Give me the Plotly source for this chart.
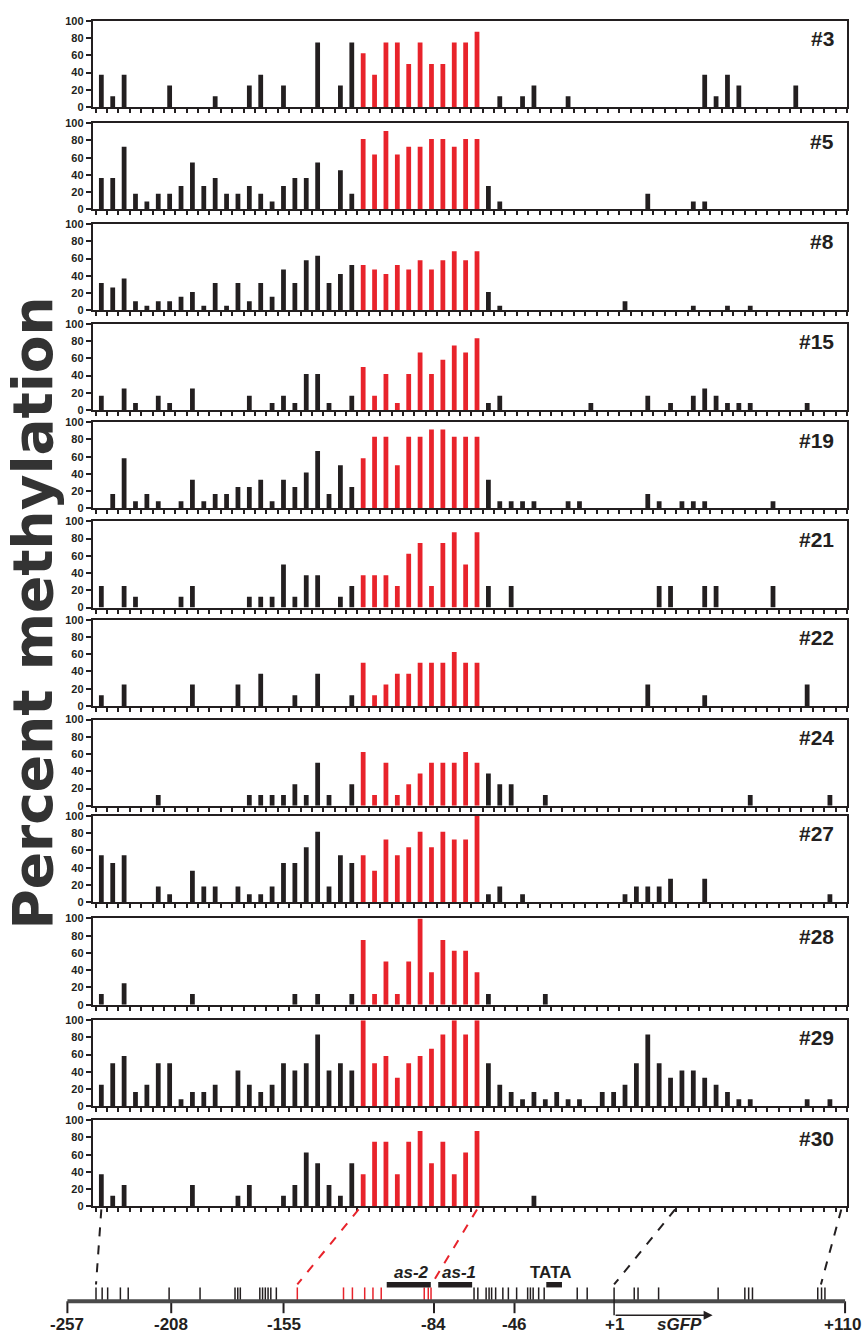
import plotly.graph_objects as go

# ---------------- data ----------------
panel_names = ["#3", "#5", "#8", "#15", "#19", "#21", "#22", "#24", "#27", "#28", "#29", "#30"]
n_sites = 66
red_first, red_last = 23, 33   # red (as-1/as-2 region) cytosine indices

m3 = [37.5,12.5,37.5,0,0,0,25,0,0,0, 12.5,0,0,25,37.5,0,25,0,0,75, 0,25,75,62.5,37.5,75,75,50,75,50,
      50,75,75,87.5,0,12.5,0,12.5,25,0, 0,12.5,0,0,0,0,0,0,0,0, 0,0,0,37.5,12.5,37.5,25,0,0,0, 0,25,0,0,0,0]
m5 = [36.4,36.4,72.7,18.2,9.1,18.2,18.2,27.3,54.5,27.3, 36.4,18.2,18.2,27.3,18.2,9.1,27.3,36.4,36.4,54.5,
      0,45.5,18.2,81.8,63.6,90.9,63.6,72.7,72.7,81.8, 81.8,72.7,81.8,81.8,27.3,9.1,0,0,0,0,
      0,0,0,0,0,0,0,0,18.2,0, 0,0,9.1,9.1,0,0,0,0,0,0, 0,0,0,0,0,0]
m8 = [31.6,26.3,36.8,10.5,5.3,10.5,10.5,15.8,21.1,5.3, 31.6,5.3,31.6,10.5,31.6,15.8,47.4,31.6,57.9,63.2,
      31.6,42.1,52.6,52.6,47.4,42.1,52.6,47.4,57.9,47.4, 57.9,68.4,57.9,68.4,21.1,5.3,0,0,0,0,
      0,0,0,0,0,0,10.5,0,0,0, 0,0,5.3,0,0,5.3,0,5.3,0,0, 0,0,0,0,0,0]
m15 = [16.7,0,25,8.3,0,16.7,8.3,0,25,0, 0,0,0,16.7,0,8.3,16.7,8.3,41.7,41.7,
       8.3,0,16.7,50,16.7,41.7,8.3,41.7,66.7,41.7, 58.3,75,66.7,83.3,8.3,16.7,0,0,0,0,
       0,0,0,8.3,0,0,0,0,16.7,0, 8.3,0,16.7,25,16.7,8.3,8.3,8.3,0,0, 0,0,8.3,0,0,0]
m19 = [0,16.7,58.3,8.3,16.7,8.3,0,8.3,33.3,8.3, 16.7,16.7,25,25,33.3,8.3,33.3,25,41.7,66.7,
       16.7,50,25,58.3,83.3,83.3,50,83.3,83.3,91.7, 91.7,83.3,83.3,83.3,33.3,8.3,8.3,8.3,8.3,0,
       0,8.3,8.3,0,0,0,0,0,16.7,8.3, 0,8.3,8.3,8.3,0,0,0,0,0,8.3, 0,0,0,0,0,0]
m21 = [25,0,25,12.5,0,0,0,12.5,25,0, 0,0,0,12.5,12.5,12.5,50,12.5,37.5,37.5,
       0,12.5,25,37.5,37.5,37.5,25,62.5,75,25, 75,87.5,50,87.5,25,0,25,0,0,0,
       0,0,0,0,0,0,0,0,0,25, 25,0,0,25,25,0,0,0,0,25, 0,0,0,0,0,0]
m22 = [12.5,0,25,0,0,0,0,0,25,0, 0,0,25,0,37.5,0,0,12.5,0,37.5,
       0,0,12.5,50,12.5,25,37.5,37.5,50,50, 50,62.5,50,50,0,0,0,0,0,0,
       0,0,0,0,0,0,0,0,25,0, 0,0,0,12.5,0,0,0,0,0,0, 0,0,25,0,0,0]
m24 = [0,0,0,0,0,12.5,0,0,0,0, 0,0,0,12.5,12.5,12.5,12.5,25,12.5,50,
       12.5,0,25,62.5,12.5,50,12.5,25,37.5,50, 50,50,62.5,50,37.5,25,25,0,0,12.5,
       0,0,0,0,0,0,0,0,0,0, 0,0,0,0,0,0,0,12.5,0,0, 0,0,0,0,12.5,0]
m27 = [54.5,45.5,54.5,0,0,18.2,9.1,0,36.4,18.2, 18.2,0,18.2,9.1,9.1,18.2,45.5,45.5,63.6,81.8,
       18.2,54.5,45.5,54.5,36.4,72.7,54.5,63.6,81.8,63.6, 81.8,72.7,72.7,100,9.1,18.2,0,9.1,0,0,
       0,0,0,0,0,0,9.1,18.2,18.2,18.2, 27.3,0,0,27.3,0,0,0,0,0,0, 0,0,0,0,9.1,0]
m28 = [12.5,0,25,0,0,0,0,0,12.5,0, 0,0,0,0,0,0,0,12.5,0,12.5,
       0,0,12.5,75,12.5,50,12.5,50,100,37.5, 75,62.5,62.5,37.5,12.5,0,0,0,0,12.5,
       0,0,0,0,0,0,0,0,0,0, 0,0,0,0,0,0,0,0,0,0, 0,0,0,0,0,0]
m29 = [25,50,58.3,16.7,25,50,50,8.3,16.7,16.7, 25,0,41.7,25,16.7,25,50,41.7,50,83.3,
       41.7,50,41.7,100,50,58.3,33.3,50,58.3,66.7, 83.3,100,83.3,100,50,25,16.7,8.3,16.7,8.3,
       16.7,8.3,8.3,0,16.7,16.7,25,50,83.3,50, 33.3,41.7,41.7,33.3,25,16.7,8.3,8.3,0,0,
       0,0,8.3,0,8.3,0]
m30 = [37.5,12.5,25,0,0,0,0,0,25,0, 0,0,12.5,25,0,0,12.5,25,62.5,50,
       25,12.5,50,37.5,75,75,37.5,75,87.5,50, 75,37.5,62.5,87.5,0,0,0,0,12.5,0,
       0,0,0,0,0,0,0,0,0,0, 0,0,0,0,0,0,0,0,0,0, 0,0,0,0,0,0]
panel_values = [m3, m5, m8, m15, m19, m21, m22, m24, m27, m28, m29, m30]

# promoter map (bp relative to transcription start)
map_ticks = [-257, -208, -155, -84, -46, 1, 110]
map_tick_labels = ["-257", "-208", "-155", "-84", "-46", "+1", "+110"]
c_black_bp = [-243.5, -240.6, -238, -232, -228.3, -209, -194.4, -177.9, -176.6, -175.4, -166.2, -164.9,
              -163.6, -162.3, -161, -158.4, -65.1, -63.3, -59.4, -58.0, -56.8, -54.9, -51.5, -48.9,
              -45, -39.8, -38.5, -37.2, -34.6, -32, -16.4, -11.7, 10.5, 12.3, 22, 50.1, 62.7,
              64.5, 66.3, 97.1, 98.9, 100.5]
c_red_bp = [-148.5, -126.7, -122.5, -116.7, -112.8, -108.9, -88.6, -86.7, -85.4]
# (label, start bp, end bp, label centre bp, italic)
elements = [("as-2", -106.3, -85.5, -94.6, True), ("as-1", -82, -66, -72.4, True),
            ("TATA", -31, -23.6, -29, False)]
tss_arrow_end = 47.5
sgfp_label_bp = 31.8
# dashed connectors: (cytosine index in panels, bp on the map, colour key)
connectors = [(0, -243.5, "k"), (22.6, -148.5, "r"), (33, -85.2, "r"), (50.4, 1, "k"), (65, 98.6, "k")]

# ---------------- style / layout ----------------
W, H = 866, 1341
BLACK = "#231F20"
RED = "#E8232B"
FONT = "Liberation Sans, Arial, sans-serif"
TITLE_FONT = "DejaVu Sans, Liberation Sans, Arial, sans-serif"
L_PX, R_PX = 92.8, 847.0
X_RANGE = [-0.75, 65.5]
panel_tops = [15, 118.3, 220, 320.7, 420, 520, 619.3, 720, 817.3, 920.7, 1023.3, 1124.3]
PANEL_H = 87
MAP_X0_PX, MAP_SCALE = 67.4, 2.119      # px of -257 and px per bp
MAP_RANGE = [-257 - MAP_X0_PX / MAP_SCALE, -257 + (W - MAP_X0_PX) / MAP_SCALE]
LABEL_Y = 1330


def px_x(p):
    return p / W


def px_y(p):
    return 1 - p / H


def cat_to_px(i):
    return L_PX + (i - X_RANGE[0]) / (X_RANGE[1] - X_RANGE[0]) * (R_PX - L_PX)


def bp_to_px(b):
    return (b - MAP_RANGE[0]) / (MAP_RANGE[1] - MAP_RANGE[0]) * W


fig = go.Figure()
layout = dict(width=W, height=H, margin=dict(l=0, r=0, t=0, b=0),
              paper_bgcolor="white", plot_bgcolor="rgba(0,0,0,0)", showlegend=False,
              bargap=0.58)
annotations = []
shapes = []

for k, (name, vals) in enumerate(zip(panel_names, panel_values)):
    idx = list(range(n_sites))
    colors = [RED if red_first <= i <= red_last else BLACK for i in idx]
    ax = "" if k == 0 else str(k + 1)
    fig.add_trace(go.Bar(x=idx, y=vals, marker=dict(color=colors, line=dict(width=0)),
                         xaxis="x" + ax, yaxis="y" + ax, hoverinfo="x+y"))
    top = panel_tops[k]
    layout["xaxis" + ax] = dict(domain=[px_x(L_PX), px_x(R_PX)], range=X_RANGE, anchor="y" + ax,
                                tickvals=[i - 0.5 for i in range(n_sites + 1)], ticks="outside",
                                ticklen=4, tickwidth=1.5, tickcolor=BLACK, showticklabels=False,
                                showline=True, linewidth=2, linecolor=BLACK, mirror=True,
                                showgrid=False, zeroline=False)
    layout["yaxis" + ax] = dict(domain=[px_y(top + PANEL_H), px_y(top)], range=[0, 100],
                                anchor="x" + ax, tickvals=[0, 20, 40, 60, 80, 100], ticks="outside",
                                ticklen=5, tickwidth=1.5, tickcolor=BLACK,
                                tickfont=dict(family=FONT, size=11, color=BLACK, weight="bold"),
                                showline=True, linewidth=2, linecolor=BLACK, mirror=True,
                                showgrid=False, zeroline=False)
    annotations.append(dict(text=name, xref="paper", yref="paper", x=px_x(836), y=px_y(top + 18),
                            xanchor="right", yanchor="middle", showarrow=False,
                            font=dict(family=FONT, size=21, color=BLACK, weight="bold")))

# overlay axis for the promoter map (x in bp, y in pixels)
MX, MY = "x13", "y13"
layout["xaxis13"] = dict(domain=[0, 1], range=MAP_RANGE, visible=False, anchor=MY, fixedrange=True)
layout["yaxis13"] = dict(domain=[0, 1], range=[H, 0], visible=False, anchor=MX, fixedrange=True)

SEQ_TOP, SEQ_BASE = 1293, 1307


def tick_trace(xs, color, y0, y1, width):
    X, Y = [], []
    for b in xs:
        X += [b, b, None]
        Y += [y0, y1, None]
    return go.Scatter(x=X, y=Y, mode="lines", line=dict(color=color, width=width),
                      xaxis=MX, yaxis=MY, hoverinfo="skip")


# baseline
shapes.append(dict(type="line", xref=MX, yref=MY, x0=map_ticks[0], x1=map_ticks[-1],
                   y0=SEQ_BASE, y1=SEQ_BASE, line=dict(color="#4a4a4a", width=4)))
fig.add_trace(tick_trace(c_black_bp, BLACK, SEQ_TOP, SEQ_BASE, 1.5))
fig.add_trace(tick_trace(c_red_bp, RED, SEQ_TOP, SEQ_BASE, 1.5))
fig.add_trace(tick_trace([t for t in map_ticks if t != 1], BLACK, SEQ_BASE, SEQ_BASE + 12, 2))
# TSS line + arrow
shapes.append(dict(type="line", xref=MX, yref=MY, x0=1, x1=1, y0=SEQ_TOP, y1=1321,
                   line=dict(color=BLACK, width=1.5)))
annotations.append(dict(x=tss_arrow_end, y=1321, ax=1, ay=1321, xref=MX, yref=MY, axref=MX, ayref=MY,
                        text="", showarrow=True, arrowhead=2, arrowsize=1.2, arrowwidth=1.5,
                        arrowcolor=BLACK))
for t, lab in zip(map_ticks, map_tick_labels):
    last = (t == map_ticks[-1])
    annotations.append(dict(x=(MAP_RANGE[1] - 1.2) if last else t, y=LABEL_Y,
                            xref=MX, yref=MY, text=lab, showarrow=False,
                            xanchor="right" if last else "center", yanchor="middle",
                            font=dict(family=FONT, size=17, color=BLACK, weight="bold")))
annotations.append(dict(x=sgfp_label_bp, y=LABEL_Y, xref=MX, yref=MY, text="<i>sGFP</i>",
                        showarrow=False, xanchor="center", yanchor="middle",
                        font=dict(family=FONT, size=17, color=BLACK, weight="bold")))
for lab, b0, b1, bl, ital in elements:
    shapes.append(dict(type="rect", xref=MX, yref=MY, x0=b0, x1=b1, y0=1287.5, y1=1293,
                       fillcolor=BLACK, line=dict(width=0)))
    annotations.append(dict(x=bl, y=1278, xref=MX, yref=MY,
                            text=f"<i>{lab}</i>" if ital else lab, showarrow=False,
                            xanchor="center", yanchor="middle",
                            font=dict(family=FONT, size=17, color=BLACK, weight="bold")))

# dashed connectors from bottom panel to the map
bottom_px = panel_tops[-1] + PANEL_H + 3
for ci, b, col in connectors:
    shapes.append(dict(type="line", xref="paper", yref="paper",
                       x0=px_x(cat_to_px(ci)), y0=px_y(bottom_px),
                       x1=px_x(bp_to_px(b)), y1=px_y(1290),
                       line=dict(color=RED if col == "r" else BLACK, width=2, dash="dash")))

# y title
annotations.append(dict(text="Percent methylation", xref="paper", yref="paper", x=px_x(33),
                        y=px_y(613), textangle=-90, showarrow=False, xanchor="center",
                        yanchor="middle", font=dict(family=TITLE_FONT, size=55, color="#333333",
                                                    weight="bold")))

layout["annotations"] = annotations
layout["shapes"] = shapes
fig.update_layout(**layout)
fig.write_html("out.html", config={"displayModeBar": False},
               post_script="document.body.style.margin='0px';document.body.style.padding='0px';"
                           "document.documentElement.style.overflow='hidden';")
